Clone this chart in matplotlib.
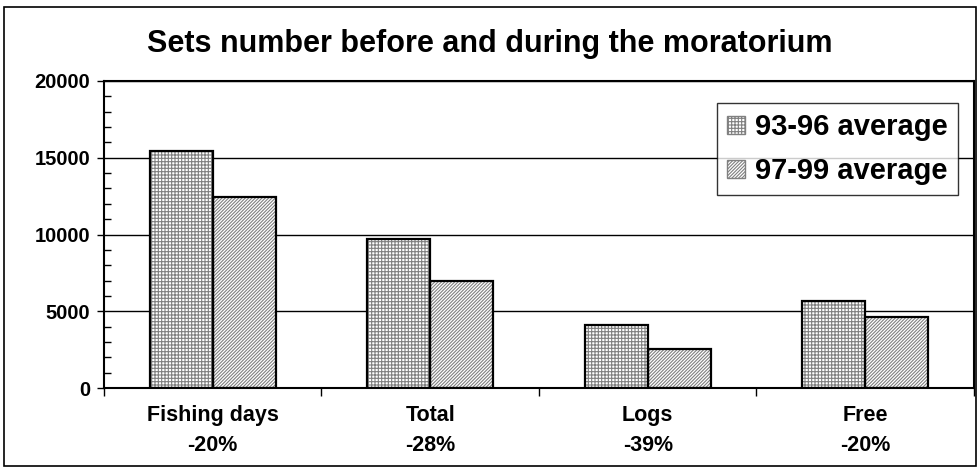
import matplotlib
matplotlib.use('Agg')
import matplotlib.pyplot as plt
from matplotlib.patches import Rectangle, Patch
import numpy as np

categories = ['Fishing days\n-20%', 'Total\n-28%', 'Logs\n-39%', 'Free\n-20%']
avg_93_96 = [15450, 9700, 4100, 5650]
avg_97_99 = [12450, 6950, 2550, 4650]
series_names = ['93-96 average', '97-99 average']

plt.rcParams['font.family'] = ['Liberation Sans', 'DejaVu Sans']
plt.rcParams['font.weight'] = 'bold'
plt.rcParams['hatch.linewidth'] = 0.8

fig = plt.figure(figsize=(9.79, 4.70), dpi=100)
W, H = 979, 470
ax = fig.add_axes([104 / W, 1 - 388 / H, 870 / W, (388 - 81) / H])

x = np.arange(len(categories))
w = 0.29
gray = '#808080'
hatches = ['+++++', '//////////']
for vals, off, hatch in [(avg_93_96, -w / 2, hatches[0]),
                         (avg_97_99, w / 2, hatches[1])]:
    # hatch in gray, outline drawn separately in black
    ax.bar(x + off, vals, width=w, color='white', edgecolor=gray, hatch=hatch,
           linewidth=0, zorder=2)
    ax.bar(x + off, vals, width=w, facecolor='none', edgecolor='black',
           linewidth=1.6, zorder=3)

ax.set_xlim(-0.5, len(categories) - 0.5)
ax.set_ylim(0, 20000)
ax.set_yticks([0, 5000, 10000, 15000, 20000])
ax.set_yticks(np.arange(0, 20001, 1000), minor=True)
ax.yaxis.grid(True, color='black', linewidth=1.0, zorder=0)
ax.set_axisbelow(True)
ax.tick_params(axis='y', which='major', direction='out', length=5, width=1,
               labelsize=14.5, pad=5)
ax.tick_params(axis='y', which='minor', direction='in', length=5, width=1)

ax.set_xticks(x)
ax.set_xticklabels(categories, fontsize=15.5, fontweight='bold', linespacing=1.6)
ax.tick_params(axis='x', which='major', length=0, pad=12)
ax.set_xticks(np.arange(-0.5, len(categories), 1.0), minor=True)
ax.tick_params(axis='x', which='minor', direction='out', length=6, width=1)

for s in ax.spines.values():
    s.set_linewidth(1.5)
    s.set_color('black')

fig.text(0.5, 1 - 44 / H, 'Sets number before and during the moratorium',
         ha='center', va='center', fontsize=22, fontweight='bold')

handles = [Patch(facecolor='white', edgecolor=gray, hatch=hatches[0]),
           Patch(facecolor='white', edgecolor=gray, hatch=hatches[1])]
leg = ax.legend(handles, series_names, loc='upper right',
                bbox_to_anchor=(958 / W, 1 - 103 / H), bbox_transform=fig.transFigure,
                prop={'size': 21, 'weight': 'bold'}, frameon=True, fancybox=False,
                handlelength=0.6, handleheight=0.6, handletextpad=0.35,
                labelspacing=0.55, borderpad=0.35, borderaxespad=0)
leg.get_frame().set_edgecolor('black')
leg.get_frame().set_linewidth(1.0)

fig.patches.append(Rectangle((4 / W, 1 - 466 / H), 972 / W, 459 / H,
                             transform=fig.transFigure, fill=False,
                             edgecolor='black', linewidth=1.2))

fig.savefig('out.png', dpi=100)
